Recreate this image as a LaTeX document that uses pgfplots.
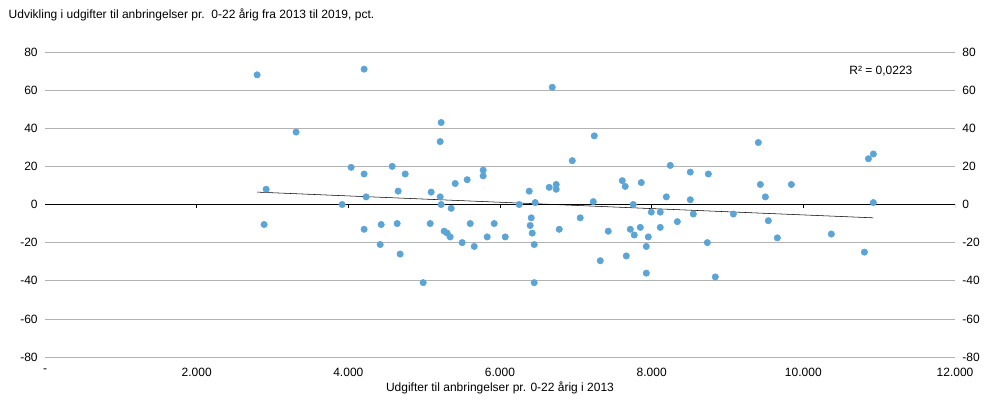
\documentclass[border=0pt]{standalone}
\usepackage{fontspec}
\setmainfont{Liberation Sans}
\usepackage{pgfplots}
\pgfplotsset{compat=1.18}
\definecolor{pt}{RGB}{91,164,214}
\begin{document}
\begin{tikzpicture}
\useasboundingbox (0pt,0pt) rectangle (741pt,303.75pt);
\pgfplotsset{base/.style={at={(33.75pt,36pt)},anchor=south west,width=682.5pt,height=228.75pt,scale only axis,
 xmin=0,xmax=12000,ymin=-80,ymax=80,ytick={-80,-60,...,80},scaled x ticks=false,
 axis line style={draw=none},tick style={draw=none},
 tick label style={font=\small},/pgf/number format/assume math mode=true}}
\begin{axis}[base,
 ymajorgrids,grid style={gray!60},
 xtick={0,2000,...,12000},xticklabels={-,2.000,4.000,6.000,8.000,10.000,12.000},
 xticklabel style={yshift=-5pt},
 xlabel={Udgifter til anbringelser pr. 0-22 årig i 2013},xlabel style={font=\small,yshift=3pt},
 yticklabel style={xshift=-2pt}]
\addplot[black,thin] coordinates {(0,0)(12000,0)};
\pgfplotsinvokeforeach{2000,4000,6000,8000,10000,12000}{\draw[black] (axis cs:#1,0) -- (axis cs:#1,-2);}
\addplot[only marks,mark=*,mark size=2.4pt,draw=pt,fill=pt] coordinates {
(2797,68)(2916,8)(2889,-10.5)(3311,38)(4208,71)(3918,0)(4037,19.5)(4208,16)(4235,4)(4208,-13)
(4433,-10.5)(4420,-21)(4578,20)(4750,16)(4657,7)(4644,-10)(4683,-26)(4987,-41)(5092,6.5)(5079,-10)
(5211,4)(5224,0)(5224,43)(5211,33)(5264,-14)(5303,-15)(5356,-2)(5343,-17)(5409,11)(5567,13)
(5501,-20)(5660,-22)(5607,-10)(5831,-17)(5778,15)(5778,18)(5923,-10)(6069,-17)(6253,0)(6412,-7)
(6385,7)(6398,-11)(6425,-15)(6451,-21)(6464,1)(6451,-41)(6649,9)(6689,61.5)(6741,10.5)(6741,8)
(6781,-13)(6953,23)(7058,-7)(7230,1.5)(7243,36)(7322,-29.5)(7427,-14)(7612,12.5)(7651,9.5)(7757,0)
(7718,-13)(7770,-16)(7665,-27)(7850,-12)(7863,11.5)(7929,-22)(7955,-17)(7929,-36)(7995,-4)(8113,-4)
(8113,-12)(8193,4)(8245,20.5)(8338,-9)(8509,2.5)(8509,17)(8549,-5)(8747,16)(8734,-20)(8839,-38)
(9077,-5)(9406,32.5)(9433,10.5)(9499,4)(9538,-8.5)(9657,-17.5)(9842,10.5)(10369,-15.5)(10805,-25)(10858,24)
(10923,26.5)(10923,1)};
\addplot[black,thin] coordinates {(2797,6.5)(10923,-7)};
\node[font=\small,anchor=east] at (axis cs:11500,70) {R² = 0,0223};
\end{axis}
\begin{axis}[base,xtick=\empty,yticklabel pos=right,yticklabel style={xshift=2pt}]
\end{axis}
\node[font=\small,anchor=north west] at (3pt,301pt) {Udvikling i udgifter til anbringelser pr.\ \ 0-22 årig fra 2013 til 2019, pct.};
\end{tikzpicture}
\end{document}
